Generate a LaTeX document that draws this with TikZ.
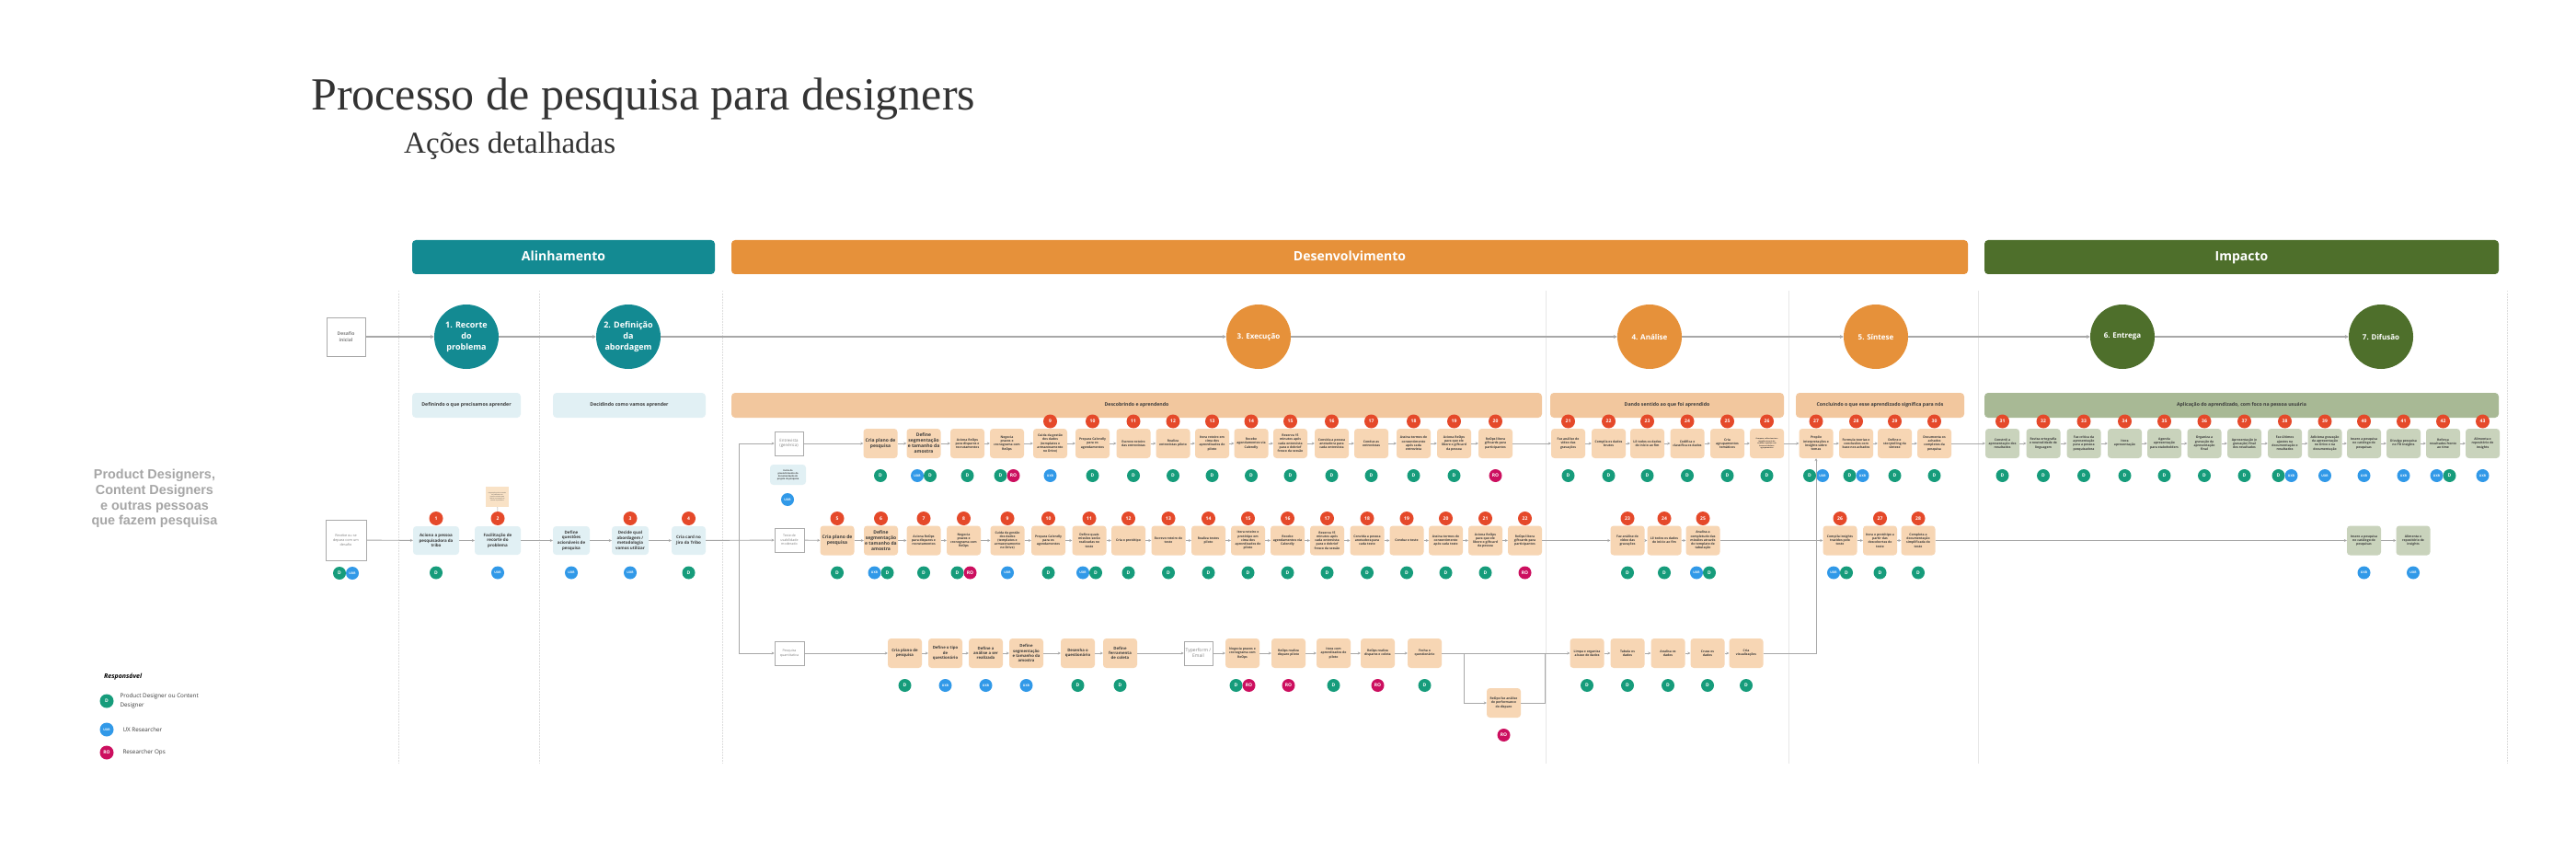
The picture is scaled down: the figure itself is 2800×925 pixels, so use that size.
\documentclass[tikz,border=0pt]{standalone}
\usepackage{fontspec}
\setmainfont{Open Sans}
\newfontfamily\titlefont{Liberation Serif}
\newfontfamily\arialfont{Liberation Sans}
\usetikzlibrary{arrows.meta,calc}
\definecolor{tealC}{HTML}{138A92}
\definecolor{orangeC}{HTML}{E6913A}
\definecolor{greenC}{HTML}{4E6F2B}
\definecolor{obox}{HTML}{F7D6B4}
\definecolor{obar}{HTML}{F2C79E}
\definecolor{bbox}{HTML}{E1F0F4}
\definecolor{gbox}{HTML}{C9D3BC}
\definecolor{gbar}{HTML}{A8B995}
\definecolor{noteC}{HTML}{F9E2C6}
\definecolor{badgeC}{HTML}{E5492A}
\definecolor{cD}{HTML}{169C7B}
\definecolor{cU}{HTML}{3199E8}
\definecolor{cR}{HTML}{CC0F5F}
\definecolor{txt}{HTML}{3B3B3B}
\definecolor{lineC}{HTML}{A8A8A8}
\definecolor{sepC}{HTML}{DDDDDD}
\definecolor{wbord}{HTML}{AAAAAA}
\definecolor{wtxt}{HTML}{808080}
\definecolor{titleC}{HTML}{333333}
\definecolor{labelC}{HTML}{A6A6A6}
\newcommand\fs[2]{\fontsize{#1}{#2}\selectfont}
% role macros: name, x, y
\newcommand\rlN[3]{}
\newcommand\rlD[3]{\node[roleD] (#1-d) at (#2,#3) {D};}
\newcommand\rlU[3]{\node[roleU] (#1-u) at (#2,#3) {UXR};}
\newcommand\rlR[3]{\node[roleR] (#1-r) at (#2,#3) {RO};}
\newcommand\rlUD[3]{\node[roleU] (#1-u) at (#2-7,#3) {UXR};\node[roleD] (#1-d) at (#2+7,#3) {D};}
\newcommand\rlDU[3]{\node[roleD] (#1-d) at (#2-7,#3) {D};\node[roleU] (#1-u) at (#2+7,#3) {UXR};}
\newcommand\rlDR[3]{\node[roleD] (#1-d) at (#2-7,#3) {D};\node[roleR] (#1-r) at (#2+7,#3) {RO};}
% step: name, x, y, style, text, badge, roles
\newcommand\St[7]{%
  \node[#4] (#1) at (#2,#3) {#5};
  \ifx\relax#6\relax\else\node[badge] (#1-n) at (#2,#3-24) {#6};\fi
  \csname rl#7\endcsname{#1}{#2}{#3+35}}
\begin{document}
\begin{tikzpicture}[x=1pt,y=-1pt,
  box/.style={rounded corners=3.5pt, minimum width=37pt, minimum height=32pt, inner sep=0.5pt, align=center, text=txt, font=\fs{3.4}{4.2}\bfseries},
  ob/.style={box, fill=obox},
  obB/.style={ob, font=\fs{5}{6}\bfseries},
  obM/.style={ob, font=\fs{4.3}{5.2}\bfseries},
  bb/.style={box, fill=bbox, font=\fs{4.5}{5.6}\bfseries, minimum height=31pt},
  gb/.style={box, fill=gbox},
  wb/.style={draw=wbord, line width=0.8pt, fill=white, text=wtxt, align=center, inner sep=0.5pt, font=\fs{4.4}{5.4}},
  badge/.style={circle, fill=badgeC, text=white, minimum size=15pt, inner sep=0pt, font=\fs{5}{5}\bfseries},
  role/.style={circle, text=white, minimum size=14pt, inner sep=0pt, font=\fs{5}{5}\bfseries},
  roleD/.style={role, fill=cD},
  roleU/.style={role, fill=cU, font=\fs{3.4}{3.4}\bfseries},
  roleR/.style={role, fill=cR},
  ln/.style={draw=lineC, line width=0.9pt},
  arr/.style={ln, -{Stealth[length=3pt,width=3pt]}},
  mainln/.style={draw=lineC, line width=1.3pt, -{Stealth[length=4pt,width=4pt]}},
  sep/.style={draw=sepC, line width=0.8pt, dash pattern=on 1.5pt off 1.5pt},
  phase/.style={circle, minimum size=70pt, inner sep=0pt, text=white, align=center, font=\fs{9}{12}\bfseries},
  phaseS/.style={phase, font=\fs{8}{10}\bfseries},
  hbar/.style={rounded corners=4pt, inner sep=0pt, minimum height=37pt, text height=10.5pt, text depth=3pt, text=white, font=\fs{14}{16}\bfseries},
  sbar/.style={rounded corners=4pt, inner sep=0pt, minimum height=27pt, text height=4pt, text depth=1.3pt, text=txt, font=\fs{5.2}{6}\bfseries},
]
\useasboundingbox (0,0) rectangle (2800,925);
\fill[white] (0,0) rectangle (2800,925);

% separators
\foreach \x in {433,586,785,2725} \draw[sep] (\x,316) -- (\x,830);
\foreach \x in {1680,1944,2150} \draw[draw=sepC!70, line width=0.8pt] (\x,316) -- (\x,830);

% title
\node[anchor=base west, inner sep=0pt, text=titleC, font=\titlefont\fs{50}{50}] (title) at (338,120) {Processo de pesquisa para designers};
\node[anchor=base west, inner sep=0pt, text=titleC, font=\titlefont\fs{33}{33}] (subtitle) at (439,167) {Ações detalhadas};

% header bars
\node[hbar, fill=tealC, minimum width=329pt] (hAl) at (612.5,279.5) {Alinhamento};
\node[hbar, fill=orangeC, minimum width=1344pt] (hDe) at (1467,279.5) {Desenvolvimento};
\node[hbar, fill=greenC, minimum width=559pt] (hIm) at (2436.5,279.5) {Impacto};

% phases
\node[wb, minimum width=42pt, minimum height=42pt, font=\fs{5}{6.5}\bfseries] (desafio) at (376,366) {Desafio\\inicial};
\node[phase, fill=tealC] (P1) at (507,366) {1. Recorte\\do\\problema};
\node[phase, fill=tealC] (P2) at (683,366) {2. Definição\\da\\abordagem};
\node[phaseS, fill=orangeC] (P3) at (1368,366) {3. Execução};
\node[phaseS, fill=orangeC] (P4) at (1793,366) {4. Análise};
\node[phaseS, fill=orangeC] (P5) at (2039,366) {5. Síntese};
\node[phaseS, fill=greenC] (P6) at (2307,366) {6. Entrega};
\node[phaseS, fill=greenC] (P7) at (2588,366) {7. Difusão};
\foreach \a/\b in {desafio/P1,P1/P2,P2/P3,P3/P4,P4/P5,P5/P6,P6/P7} \draw[mainln] (\a) -- (\b);

% sub-phase bars
\node[sbar, fill=bbox, minimum width=118pt] (s1) at (507,440.5) {Definindo o que precisamos aprender};
\node[sbar, fill=bbox, minimum width=166pt] (s2) at (684,440.5) {Decidindo como vamos aprender};
\node[sbar, fill=obar, minimum width=881pt] (s3) at (1235.5,440.5) {Descobrindo e aprendendo};
\node[sbar, fill=obar, minimum width=254pt] (s4) at (1812,440.5) {Dando sentido ao que foi aprendido};
\node[sbar, fill=obar, minimum width=183pt] (s5) at (2043.5,440.5) {Concluindo o que esse aprendizado significa para nós};
\node[sbar, fill=gbar, minimum width=559pt] (s6) at (2436.5,440.5) {Aplicação do aprendizado, com foco na pessoa usuária};

% left label and legend
\node[align=center, text=labelC, font=\arialfont\fs{14.4}{16.7}\bfseries] (who) at (168,542) {Product Designers,\\Content Designers\\e outras pessoas\\que fazem pesquisa};
\node[anchor=base west, inner sep=0pt, font=\fs{7}{8}\bfseries\itshape] (legT) at (113,737) {Responsável};
\node[roleD, minimum size=15pt] (legD) at (116,762) {D};
\node[roleU, minimum size=15pt] (legU) at (116,793) {UXR};
\node[roleR, minimum size=15pt] (legR) at (116,818) {RO};
\node[anchor=west, align=left, text=txt, font=\fs{6.3}{10}] (legDt) at (127,762) {Product Designer ou Content\\Designer};
\node[anchor=west, text=txt, font=\fs{6.3}{8}] (legUt) at (130,793) {UX Researcher};
\node[anchor=west, text=txt, font=\fs{6.3}{8}] (legRt) at (130,818) {Researcher Ops};

% ===== Row 2 (main) =====
\node[wb, minimum width=44pt, minimum height=44pt, font=\fs{3.8}{4.8}] (recebe) at (376,587) {Recebe ou se\\depara com um\\desafio};
\rlDU{recebe}{376}{623}
\St{B1}{474}{587.5}{bb, minimum width=50pt}{Aciona a pessoa\\pesquisadora da\\tribo}{1}{D}
\St{B2}{541}{587.5}{bb, minimum width=50pt}{Facilitação de\\recorte do\\problema}{2}{U}
\St{Bq}{621}{587.5}{bb, minimum width=40pt}{Define\\questões\\acionáveis de\\pesquisa}{}{U}
\St{B3}{685}{587.5}{bb, minimum width=40pt}{Decide qual\\abordagem /\\metodologia\\vamos utilizar}{3}{U}
\St{B4}{748.5}{587.5}{bb}{Cria card no\\Jira da Tribo}{4}{D}
\node[fill=noteC, minimum width=25pt, minimum height=22pt, inner sep=0.5pt, align=center, text=txt, font=\fs{1.5}{2}] (note2) at (540.5,540) {Preparação prévia e estudo\\do problema com\\insumos e dados para\\facilitar o momento de\\recorte do problema};
\draw[ln, line width=0.5pt] (note2) -- (B2-n);

\node[wb, minimum width=32pt, minimum height=26pt, font=\fs{3.6}{4.6}] (teste) at (858,587) {Teste de\\usabilidade\\moderado};
\St{B5}{910}{587.5}{obB}{Cria plano de\\pesquisa}{5}{D}
\St{B6}{957.5}{587.5}{obB}{Define\\segmentação\\e tamanho da\\amostra}{6}{UD}
\St{B7}{1004}{587.5}{ob}{Aciona ReOps\\para disparos e\\recrutamentos}{7}{D}
\St{B8}{1047.5}{587.5}{ob}{Negocia\\prazos e\\cronograma com\\ReOps}{8}{DR}
\St{B9}{1095}{587.5}{ob}{Cuida da gestão\\dos dados\\(templates e\\armazenamento\\no Drive)}{9}{U}
\St{B10}{1139.5}{587.5}{ob}{Prepara Calendly\\para os\\agendamentos}{10}{D}
\St{B11}{1184}{587.5}{ob}{Define quais\\missões serão\\realizadas no\\teste}{11}{UD}
\St{B12}{1226.5}{587.5}{ob}{Cria o protótipo}{12}{D}
\St{B13}{1270}{587.5}{ob}{Escreve roteiro do\\teste}{13}{D}
\St{B14}{1313.5}{587.5}{ob}{Realiza testes\\piloto}{14}{D}
\St{B15}{1356.5}{587.5}{ob}{Itera roteiro e\\protótipo em\\cima dos\\aprendizados do\\piloto}{15}{D}
\St{B16}{1399.5}{587.5}{ob}{Recebe\\agendamentos via\\Calendly}{16}{D}
\St{B17}{1442.5}{587.5}{ob}{Reserva 15\\minutos após\\cada entrevista\\para o debrief\\fresco da sessão}{17}{D}
\St{B18}{1486}{587.5}{ob}{Convida a pessoa\\anotadora para\\cada teste}{18}{D}
\St{B19}{1529}{587.5}{ob}{Conduz o teste}{19}{D}
\St{B20}{1571.5}{587.5}{ob}{Assina termos de\\consentimento\\após cada teste}{20}{D}
\St{B21}{1614.5}{587.5}{ob}{Aciona ReOps\\para que ele\\libere o giftcard\\da pessoa}{21}{D}
\St{B22}{1657.5}{587.5}{ob}{ReOps libera\\giftcards para\\participantes}{22}{R}
\St{B23}{1769}{587.5}{ob}{Faz análise de\\vídeo das\\gravações}{23}{D}
\St{B24}{1809}{587.5}{ob}{Lê todos os dados\\do início ao fim}{24}{D}
\St{B25}{1851}{587.5}{ob}{Analisa a\\completude das\\missões através\\do template de\\tabulação}{25}{UD}
\St{B26}{2000}{587.5}{ob}{Compila insights\\trazidos pelo\\teste}{26}{UD}
\St{B27}{2043.5}{587.5}{ob}{Itera o protótipo a\\partir das\\descobertas do\\teste}{27}{D}
\St{B28}{2085}{587.5}{ob}{Completa a\\documentação\\simplificada do\\teste}{28}{D}
\St{Bi1}{2569.5}{587.5}{gb}{Insere a pesquisa\\no catálogo de\\pesquisas}{}{U}
\St{Bi2}{2623}{587.5}{gb}{Alimenta o\\repositório de\\insights}{}{U}
\foreach \a/\b in {recebe/B1,B1/B2,B2/Bq,Bq/B3,B3/B4,B4/teste,teste/B5,B28/Bi1,Bi1/Bi2} \draw[arr] (\a) -- (\b);
\foreach \i [evaluate=\i as \j using int(\i+1)] in {5,...,27} \draw[arr] (B\i) -- (B\j);

% ===== trunk =====
\coordinate (T1) at (803,482);
\coordinate (T3) at (803,710);
\draw[ln] (T1) -- (T3);

% ===== Row 1 =====
\node[wb, minimum width=31pt, minimum height=26pt] (ent) at (857.5,482) {Entrevista\\(genérica)};
\node[box, fill=bbox, minimum width=39pt, minimum height=22pt, font=\fs{2.4}{3}\bfseries] (entnote) at (856.5,516) {Início do\\preenchimento da\\documentação do\\projeto de pesquisa};
\node[roleU] (entnote-u) at (856,543) {UXR};
\St{A1}{957}{482}{obB}{Cria plano de\\pesquisa}{}{D}
\St{A2}{1004}{482}{obB}{Define\\segmentação\\e tamanho da\\amostra}{}{UD}
\St{A3}{1051.5}{482}{ob}{Aciona ReOps\\para disparos e\\recrutamentos}{}{D}
\St{A4}{1094.5}{482}{ob}{Negocia\\prazos e\\cronograma com\\ReOps}{}{DR}
\St{A9}{1141.5}{482}{ob}{Cuida da gestão\\dos dados\\(templates e\\armazenamento\\no Drive)}{9}{U}
\St{A10}{1187.5}{482}{ob}{Prepara Calendly\\para os\\agendamentos}{10}{D}
\St{A11}{1232}{482}{ob}{Escreve roteiro\\das entrevistas}{11}{D}
\St{A12}{1275}{482}{ob}{Realiza\\entrevistas piloto}{12}{D}
\St{A13}{1317.5}{482}{ob}{Itera roteiro em\\cima dos\\aprendizados do\\piloto}{13}{D}
\St{A14}{1360}{482}{ob}{Recebe\\agendamentos via\\Calendly}{14}{D}
\St{A15}{1402.5}{482}{ob}{Reserva 15\\minutos após\\cada entrevista\\para o debrief\\fresco da sessão}{15}{D}
\St{A16}{1447.5}{482}{ob}{Convida a pessoa\\anotadora para\\cada entrevista}{16}{D}
\St{A17}{1490.5}{482}{ob}{Conduz as\\entrevistas}{17}{D}
\St{A18}{1536.5}{482}{ob}{Assina termos de\\consentimento\\após cada\\entrevista}{18}{D}
\St{A19}{1580.5}{482}{ob}{Aciona ReOps\\para que ele\\libere o giftcard\\da pessoa}{19}{D}
\St{A20}{1625.5}{482}{ob}{ReOps libera\\giftcards para\\participantes}{20}{R}
\St{A21}{1704.5}{482}{ob}{Faz análise de\\vídeo das\\gravações}{21}{D}
\St{A22}{1748.5}{482}{ob}{Compila os dados\\brutos}{22}{D}
\St{A23}{1790.5}{482}{ob}{Lê todos os dados\\do início ao fim}{23}{D}
\St{A24}{1834}{482}{ob}{Codifica e\\classifica os dados}{24}{D}
\St{A25}{1877.5}{482}{ob}{Cria\\agrupamentos\\temáticos}{25}{D}
\St{A26}{1920.5}{482}{ob, font=\fs{1.9}{2.5}\bfseries}{Compara, refina teorias e\\insights através de\\análise e ajustes com\\base nos dados e\\agrupamentos}{26}{D}
\St{A27}{1974}{482}{ob}{Propõe\\interpretações e\\insights sobre\\temas}{27}{DU}
\St{A28}{2017.5}{482}{ob}{Formula teorias e\\conclusões com\\base nos achados}{28}{DU}
\St{A29}{2059.5}{482}{ob}{Define o\\storytelling da\\síntese}{29}{D}
\St{A30}{2102.5}{482}{ob}{Documenta os\\achados\\completos da\\pesquisa}{30}{D}
\St{A31}{2176.5}{482}{gb}{Constrói a\\apresentação dos\\resultados}{31}{D}
\St{A32}{2221}{482}{gb}{Revisa ortografia\\e neutralidade de\\linguagem}{32}{D}
\St{A33}{2265}{482}{gb}{Faz crítica da\\apresentação\\para a pessoa\\pesquisadora}{33}{D}
\St{A34}{2309.5}{482}{gb}{Itera\\apresentação}{34}{D}
\St{A35}{2352.5}{482}{gb}{Agenda\\apresentação\\para stakeholders}{35}{D}
\St{A36}{2396}{482}{gb}{Organiza a\\gravação da\\apresentação\\final}{36}{D}
\St{A37}{2439.5}{482}{gb}{Apresentação (e\\gravação) final\\dos resultados}{37}{D}
\St{A38}{2483.5}{482}{gb}{Faz últimos\\ajustes na\\documentação e\\resultados}{38}{DU}
\St{A39}{2527}{482}{gb}{Adiciona gravação\\da apresentação\\no Drive e na\\documentação}{39}{U}
\St{A40}{2569.5}{482}{gb}{Insere a pesquisa\\no catálogo de\\pesquisas}{40}{U}
\St{A41}{2612.5}{482}{gb}{Divulga pesquisa\\no PD Insights}{41}{U}
\St{A42}{2655.5}{482}{gb}{Reforça\\resultados frente\\ao time}{42}{UD}
\St{A43}{2698.5}{482}{gb}{Alimenta o\\repositório de\\insights}{43}{U}
\foreach \a/\b in {T1/ent,ent/A1,A1/A2,A2/A3,A3/A4,A4/A9} \draw[arr] (\a) -- (\b);
\foreach \i [evaluate=\i as \j using int(\i+1)] in {9,...,42} \draw[arr] (A\i) -- (A\j);

% ===== Row 3 =====
\node[wb, minimum width=32pt, minimum height=26pt, font=\fs{3.6}{4.6}] (quant) at (858,710) {Pesquisa\\quantitativa};
\St{C1}{983.5}{710}{obM}{Cria plano de\\pesquisa}{}{D}
\St{C2}{1027.5}{710}{obM}{Define o tipo\\de\\questionário}{}{U}
\St{C3}{1071.5}{710}{obM}{Define a\\análise a ser\\realizada}{}{U}
\St{C4}{1115.5}{710}{obM}{Define\\segmentação\\e tamanho da\\amostra}{}{U}
\St{C5}{1171.5}{710}{obM}{Desenha o\\questionário}{}{D}
\St{C6}{1217.5}{710}{obM}{Define\\ferramenta\\de coleta}{}{D}
\node[wb, minimum width=31pt, minimum height=26pt, font=\fs{5}{6}] (typ) at (1302.5,710) {Typerform /\\Email};
\St{C7}{1350.5}{710}{ob}{Negocia prazos e\\cronograma com\\ReOps}{}{DR}
\St{C8}{1400.5}{710}{ob}{ReOps realiza\\disparo piloto}{}{R}
\St{C9}{1449.5}{710}{ob}{Itera com\\aprendizados do\\piloto}{}{D}
\St{C10}{1497.5}{710}{ob}{ReOps realiza\\disparos e coleta}{}{R}
\St{C11}{1548.5}{710}{ob}{Fecha o\\questionário}{}{D}
\St{Cp}{1634.5}{764}{ob}{ReOps faz análise\\de performance\\do disparo}{}{R}
\St{C12}{1725}{710}{ob}{Limpa e organiza\\a base de dados}{}{D}
\St{C13}{1769}{710}{ob}{Tabula os\\dados}{}{D}
\St{C14}{1813}{710}{ob}{Analisa os\\dados}{}{D}
\St{C15}{1856}{710}{ob}{Cruza os\\dados}{}{D}
\St{C16}{1898}{710}{ob}{Cria\\visualizações}{}{D}
\coordinate (J1) at (1591,710);
\coordinate (J2) at (1679,710);
\foreach \a/\b in {T3/quant,quant/C1,C1/C2,C2/C3,C3/C4,C4/C5,C5/C6,C6/typ,typ/C7,C7/C8,C8/C9,C9/C10,C10/C11,J2/C12,C12/C13,C13/C14,C14/C15,C15/C16} \draw[arr] (\a) -- (\b);
\draw[ln] (C11) -- (J2);
\draw[arr] (J1) |- (Cp);
\draw[ln] (Cp) -| (J2);
\draw[arr] (C16) -| (A27);
\end{tikzpicture}
\end{document}
